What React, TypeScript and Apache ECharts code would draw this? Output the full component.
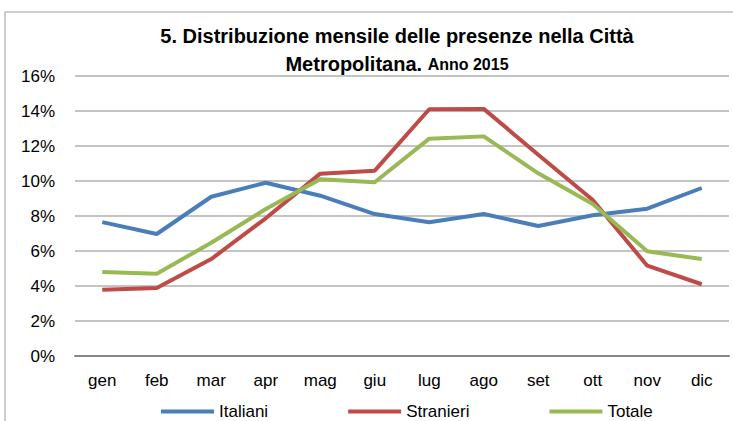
import React, { useEffect, useRef } from "react";
import * as echarts from "echarts";

const months = ["gen", "feb", "mar", "apr", "mag", "giu", "lug", "ago", "set", "ott", "nov", "dic"];
const italiani = [7.65, 6.97, 9.1, 9.9, 9.16, 8.11, 7.64, 8.11, 7.43, 8.04, 8.42, 9.6];
const stranieri = [3.79, 3.89, 5.54, 7.87, 10.42, 10.59, 14.1, 14.12, 11.5, 8.91, 5.16, 4.1];
const totale = [4.8, 4.7, 6.47, 8.4, 10.1, 9.93, 12.42, 12.55, 10.44, 8.69, 5.98, 5.54];
const yTicks = [0, 2, 4, 6, 8, 10, 12, 14, 16];

const FONT = "'Liberation Sans Narrow', 'Arial Narrow', 'Liberation Sans', Arial, sans-serif";

export default function App() {
  const ref = useRef<HTMLDivElement>(null);
  useEffect(() => {
    const chart = echarts.init(ref.current!, null, { renderer: "svg" });
    const mk = (name: string, data: number[], color: string) => ({
      name,
      type: "line",
      data,
      symbol: "none",
      lineStyle: { width: 4, color },
      itemStyle: { color },
    });
    chart.setOption({
      animation: false,
      textStyle: { fontFamily: FONT },
      graphic: [
        {
          type: "rect",
          shape: { x: 5, y: 12, width: 760, height: 430 },
          style: { fill: "none", stroke: "#BFBFBF", lineWidth: 1.5 },
          silent: true,
        },
      ],
      title: {
        text: "5. Distribuzione mensile delle presenze nella Città\n{a|Metropolitana.} {b|Anno 2015}",
        left: 392,
        textAlign: "center",
        top: 17,
        textStyle: {
          fontFamily: FONT,
          fontSize: 20,
          fontWeight: "bold",
          color: "#000",
          lineHeight: 28,
          rich: {
            a: { fontFamily: FONT, fontSize: 20, fontWeight: "bold", color: "#000", lineHeight: 28 },
            b: { fontFamily: FONT, fontSize: 16, fontWeight: "bold", color: "#000", lineHeight: 28 },
          },
        },
      },
      legend: {
        left: 156,
        top: 398,
        itemWidth: 53,
        itemHeight: 4,
        itemGap: 80,
        icon: "rect",
        textStyle: { fontFamily: FONT, fontSize: 17, color: "#000", padding: [0, 0, 0, 0] },
        data: ["Italiani", "Stranieri", "Totale"],
      },
      grid: { left: 75, right: 4, top: 76, bottom: 65, containLabel: false },
      xAxis: {
        type: "category",
        data: months,
        boundaryGap: true,
        axisTick: { show: false },
        axisLine: { lineStyle: { color: "#868686", width: 2 } },
        axisLabel: { fontFamily: FONT, fontSize: 17, color: "#000", margin: 16 },
      },
      yAxis: {
        type: "value",
        min: yTicks[0],
        max: yTicks[yTicks.length - 1],
        interval: 2,
        axisLine: { show: false },
        axisTick: { show: false },
        splitLine: { lineStyle: { color: "#C4C4C4", width: 2 } },
        axisLabel: { fontFamily: FONT, fontSize: 17, color: "#000", margin: 20, formatter: "{value}%" },
      },
      series: [
        mk("Italiani", italiani, "#4A7EBB"),
        mk("Stranieri", stranieri, "#BE4B48"),
        mk("Totale", totale, "#98B954"),
      ],
    });
    return () => chart.dispose();
  }, []);
  return <div ref={ref} style={{ width: 733, height: 421, position: "absolute", left: 0, top: 0 }} />;
}
